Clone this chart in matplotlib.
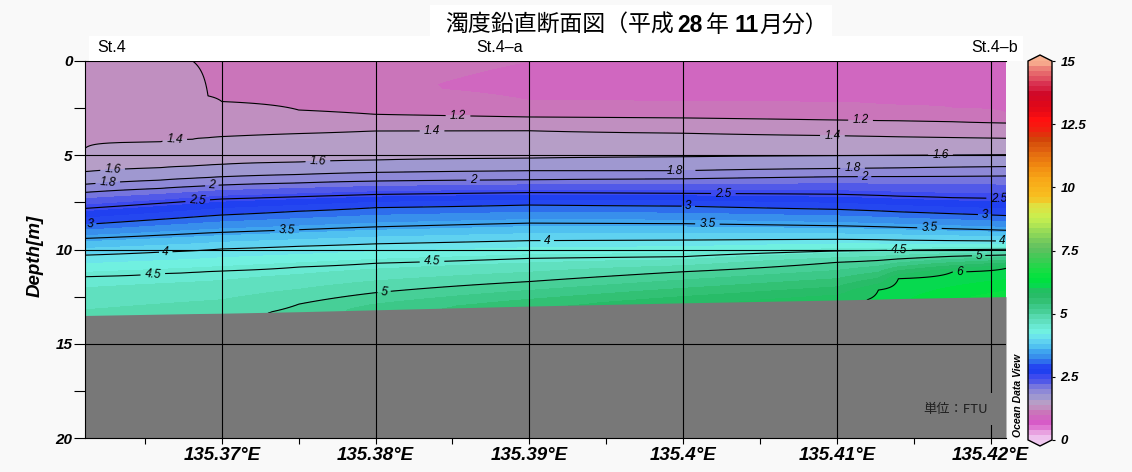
import numpy as np
import matplotlib
matplotlib.use('Agg')
import matplotlib.pyplot as plt
from matplotlib.colors import LinearSegmentedColormap
from matplotlib.patches import Rectangle

# ---------------- data ----------------
N = None
lons = [135.3611, 135.3660, 135.3681, 135.3691, 135.3700, 135.3750, 135.3800,
        135.3900, 135.4000, 135.4100, 135.4127, 135.4140, 135.4175, 135.4210]

iso_levels = [1.0, 1.2, 1.4, 1.6, 1.8, 2.0, 2.5, 3.0, 3.5, 4.0, 4.5, 5.0, 6.0]
iso_depth = [
    [N, N, N, N, N, N, N, 2.10, 2.15, 2.20, 2.30, 2.35, 2.50, 2.75],                        # 1.0
    [N, N, N, 1.85, 2.15, 2.60, 2.83, 2.97, 3.02, 3.13, 3.16, 3.17, 3.22, 3.29],            # 1.2
    [4.63, 4.29, 4.15, 4.07, 4.01, 3.85, 3.71, 3.70, 3.83, 3.96, 4.00, 4.02, 4.06, 4.10],  # 1.4
    [5.87, 5.66, 5.57, 5.52, 5.48, 5.36, 5.25, 5.15, 5.08, 5.02, 5.01, 5.00, 4.99, 4.97],  # 1.6
    [6.54, 6.32, 6.22, 6.18, 6.14, 6.02, 5.91, 5.82, 5.82, 5.70, 5.68, 5.67, 5.63, 5.60],  # 1.8
    [6.97, 6.76, 6.66, 6.62, 6.58, 6.47, 6.37, 6.30, 6.25, 6.14, 6.13, 6.13, 6.12, 6.10],  # 2.0
    [7.82, 7.55, 7.43, 7.37, 7.32, 7.20, 7.08, 6.98, 7.02, 7.07, 7.13, 7.17, 7.25, 7.30],  # 2.5
    [8.67, 8.40, 8.28, 8.22, 8.17, 7.97, 7.78, 7.64, 7.70, 7.87, 7.95, 8.00, 8.10, 8.20],  # 3.0
    [9.41, 9.24, 9.16, 9.12, 9.09, 8.95, 8.80, 8.60, 8.63, 8.74, 8.79, 8.82, 8.90, 8.98],  # 3.5
    [10.30, 10.14, 10.07, 10.02, 9.97, 9.83, 9.70, 9.53, 9.50, 9.46, 9.48, 9.50, 9.53, 9.55],  # 4.0
    [11.44, 11.28, 11.21, 11.17, 11.14, 10.93, 10.73, 10.47, 10.38, 10.08, 10.05, 10.04, 10.01, 9.99],  # 4.5
    [N, N, N, N, N, 12.90, 12.29, 11.70, 11.18, 10.68, 10.58, 10.50, 10.36, 10.29],         # 5.0
    [N, N, N, N, N, N, N, N, N, N, 12.15, 11.55, 11.20, 11.00],                             # 6.0
]
surface_val = [1.33, 1.27, 1.20, 1.17, 1.10, 1.09, 1.08, 1.00, 0.95, 0.93, 0.93, 0.93, 0.93, 0.93]
core_depth = [N, N, N, N, N, N, 1.5, 1.2, 1.0, 1.0, 1.0, 1.0, 1.0, 1.0]
core_val = [N, N, N, N, N, N, 1.03, 0.94, 0.92, 0.91, 0.91, 0.91, 0.91, 0.91]
seabed_depth = [13.50, 13.43, 13.40, 13.39, 13.38, 13.30, 13.20, 13.00, 12.83, 12.68, 12.63, 12.60, 12.55, 12.50]
seabed_val = [4.85, 4.90, 4.92, 4.93, 4.94, 5.04, 5.30, 5.55, 5.75, 5.92, 6.03, 6.15, 6.35, 6.50]

line_levels = [1.2, 1.4, 1.6, 1.8, 2, 2.5, 3, 3.5, 4, 4.5, 5, 6]
label_pos = [
    (135.38536, 2.90), (135.41154, 3.15),
    (135.36694, 4.24), (135.38367, 3.71), (135.40971, 3.98),
    (135.36290, 5.80), (135.37625, 5.38), (135.41674, 4.99),
    (135.36258, 6.45), (135.39949, 5.82), (135.41102, 5.70),
    (135.36935, 6.60), (135.38634, 6.34), (135.41180, 6.14),
    (135.36843, 7.40), (135.40262, 7.04), (135.42052, 7.30),
    (135.36141, 8.66), (135.40034, 7.72), (135.41961, 8.19),
    (135.37423, 8.92), (135.40158, 8.64), (135.41602, 8.88),
    (135.36635, 10.12), (135.39116, 9.52), (135.42078, 9.55),
    (135.36551, 11.31), (135.38367, 10.67), (135.41407, 10.04),
    (135.38055, 12.22), (135.41922, 10.32),
    (135.41798, 11.16),
]

xticks = [135.37, 135.38, 135.39, 135.40, 135.41, 135.42]
xtick_labels = ['135.37°E', '135.38°E', '135.39°E', '135.4°E', '135.41°E', '135.42°E']
yticks = [0, 5, 10, 15, 20]
cbar_ticks = [0, 2.5, 5, 7.5, 10, 12.5, 15]
cbar_labels = ['0', '2.5', '5', '7.5', '10', '12.5', '15']
stations = ['St.4', 'St.4–a', 'St.4–b']

# ---------------- colormap ----------------
knots = [
    (0.0, '#f0c8f0'), (0.3, '#e8a0e0'), (0.6, '#d858c8'), (0.9, '#d068c0'),
    (1.1, '#c878b8'), (1.3, '#c090c0'), (1.5, '#b4a0c8'), (1.7, '#a098d0'),
    (1.9, '#8c88d8'), (2.1, '#7070e0'), (2.3, '#5058e8'), (2.5, '#3848f0'),
    (2.7, '#2040f0'), (2.9, '#2448f0'), (3.1, '#3078ec'), (3.3, '#3890ec'),
    (3.5, '#40a8f0'), (3.7, '#50c0f0'), (3.9, '#60d4f0'), (4.1, '#6ee8ea'),
    (4.3, '#70f0e0'), (4.5, '#68e8d0'), (4.7, '#60e0c0'), (4.9, '#55d8ac'),
    (5.1, '#48d098'), (5.3, '#3cc888'), (5.5, '#30c070'), (5.7, '#28bc68'),
    (5.9, '#20c060'), (6.1, '#08d850'), (6.3, '#00e040'), (6.6, '#10e040'),
    (7.0, '#30d050'), (7.6, '#60c060'), (8.2, '#90d858'), (8.8, '#c8f050'),
    (9.3, '#e0e040'), (9.6, '#f8c020'), (10.3, '#f8a818'), (10.9, '#f08810'),
    (11.5, '#e06010'), (11.9, '#d04808'), (12.3, '#f02010'), (12.7, '#ff1010'),
    (13.2, '#e00818'), (13.7, '#d00828'), (14.1, '#d83050'), (14.6, '#e87070'),
    (15.0, '#f8b090'),
]
cmap = LinearSegmentedColormap.from_list('odv', [(v / 15.0, c) for v, c in knots])

# ---------------- field from profiles ----------------
depths = np.linspace(0, 20, 801)
Z = np.empty((len(depths), len(lons)))
for j in range(len(lons)):
    pts = [(0.0, surface_val[j])]
    if core_depth[j] is not None:
        pts.append((core_depth[j], core_val[j]))
    for i, lv in enumerate(iso_levels):
        d = iso_depth[i][j]
        if d is not None:
            pts.append((d, lv))
    pts.append((seabed_depth[j], seabed_val[j]))
    pts.append((20.0, seabed_val[j]))
    pts.sort()
    Z[:, j] = np.interp(depths, [p[0] for p in pts], [p[1] for p in pts])

# ---------------- figure ----------------
W, H = 1132, 472
fig = plt.figure(figsize=(W / 100, H / 100), dpi=100, facecolor='#f9f9f9')
TICKFONT = 'Liberation Sans'
CJK = ['Noto Sans CJK JP', 'DejaVu Sans']

ax = fig.add_axes([85 / W, 1 - 438 / H, (1006 - 85) / W, (438 - 61) / H])
ax.set_facecolor('white')

fill_levels = np.linspace(0, 15, 76)
cf = ax.contourf(lons, depths, Z, levels=fill_levels, cmap=cmap, extend='both', zorder=1)
cs = ax.contour(lons, depths, Z, levels=line_levels, colors='black', linewidths=0.8, zorder=2)
labels = ax.clabel(cs, levels=line_levels, fmt='%g', fontsize=8.5, inline=True,
                   inline_spacing=3, manual=label_pos)
for t in labels:
    t.set_fontstyle('italic')
    t.set_family(TICKFONT)
    t.set_zorder(2.5)
    t.set_clip_on(True)

ax.fill_between(lons, seabed_depth, 20, color='#787878', lw=0, zorder=3)

for xv in xticks:
    ax.axvline(xv, color='black', lw=0.8, zorder=5)
for yv in yticks[1:-1]:
    ax.axhline(yv, color='black', lw=0.8, zorder=5)

ax.set_xlim(lons[0], lons[-1])
ax.set_ylim(20, 0)
ax.set_xticks(xticks)
ax.set_xticklabels(xtick_labels)
ax.set_xticks([v - 0.005 for v in xticks], minor=True)
ax.set_yticks(yticks)
ax.set_yticklabels([str(v) for v in yticks])
ax.set_yticks([v + 2.5 for v in yticks[:-1]], minor=True)
ax.tick_params(axis='y', which='both', direction='out', length=8, width=0.8, pad=1)
ax.tick_params(axis='x', which='both', direction='out', length=4.3, width=0.8, pad=2)
for lab in ax.get_xticklabels():
    lab.set_fontsize(13.5); lab.set_fontweight('bold'); lab.set_fontstyle('italic'); lab.set_family(TICKFONT)
for lab in ax.get_yticklabels():
    lab.set_fontsize(11); lab.set_fontweight('bold'); lab.set_fontstyle('italic'); lab.set_family(TICKFONT)
for s in ['left', 'top', 'bottom']:
    ax.spines[s].set_linewidth(0.8)
    ax.spines[s].set_zorder(6)
ax.spines['right'].set_visible(False)

# colorbar
cax = fig.add_axes([1028 / W, 1 - 446 / H, 24 / W, (446 - 55) / H])
cb = fig.colorbar(cf, cax=cax, extend='both', extendfrac=0.016, ticks=cbar_ticks)
cb.outline.set_linewidth(1.0)
cb.ax.set_yticklabels(cbar_labels)
cb.ax.tick_params(length=2, width=0.8, direction='out', pad=4)
for lab in cb.ax.get_yticklabels():
    lab.set_fontsize(9.5); lab.set_fontweight('bold'); lab.set_fontstyle('italic'); lab.set_family(TICKFONT)

# decorations
fig.patches.append(Rectangle((89 / W, 1 - 61 / H), (1023 - 89) / W, 25 / H,
                             transform=fig.transFigure, facecolor='white', edgecolor='none', zorder=0))
fig.patches.append(Rectangle((430 / W, 1 - 36 / H), (832 - 430) / W, 31 / H,
                             transform=fig.transFigure, facecolor='white', edgecolor='none', zorder=0))
fig.text(97 / W, 1 - 47 / H, stations[0], ha='left', va='center', fontsize=11.5, family=TICKFONT)
fig.text(500 / W, 1 - 47 / H, stations[1], ha='center', va='center', fontsize=11.5, family=TICKFONT)
fig.text(1018 / W, 1 - 47 / H, stations[2], ha='right', va='center', fontsize=11.5, family=TICKFONT)

fig.text(35 / W, 1 - 256 / H, 'Depth[m]', rotation=90, ha='center', va='center',
         fontsize=13.5, fontweight='bold', fontstyle='italic', family=TICKFONT)
fig.text(1018 / W, 1 - 437 / H, 'Ocean Data View', rotation=90, ha='center', va='bottom',
         fontsize=7.5, fontweight='bold', fontstyle='italic', family=TICKFONT)
fig.text(956 / W, 1 - 409 / H, '単位：FTU', ha='center', va='center', fontsize=9.5,
         family=CJK, color='#202020',
         bbox=dict(boxstyle='square,pad=0.7', facecolor='#787878', edgecolor='none'))

# title built from pieces (bold numerals)
pieces = [('濁度鉛直断面図（平成', 'normal', CJK, 0),
          ('28', 'bold', [TICKFONT], 3),
          ('年', 'normal', CJK, 4),
          ('11', 'bold', [TICKFONT], 5),
          ('月分）', 'normal', CJK, 1)]
fig.canvas.draw()
rend = fig.canvas.get_renderer()
xpos = 445.0
for s, wgt, fam, gap in pieces:
    xpos += gap
    t = fig.text(xpos / W, 1 - 32 / H, s, ha='left', va='baseline', fontsize=16.5,
                 fontweight=wgt, family=fam, color='black')
    bb = t.get_window_extent(renderer=rend)
    xpos = bb.x1

fig.savefig('out.png', dpi=100, facecolor=fig.get_facecolor())
